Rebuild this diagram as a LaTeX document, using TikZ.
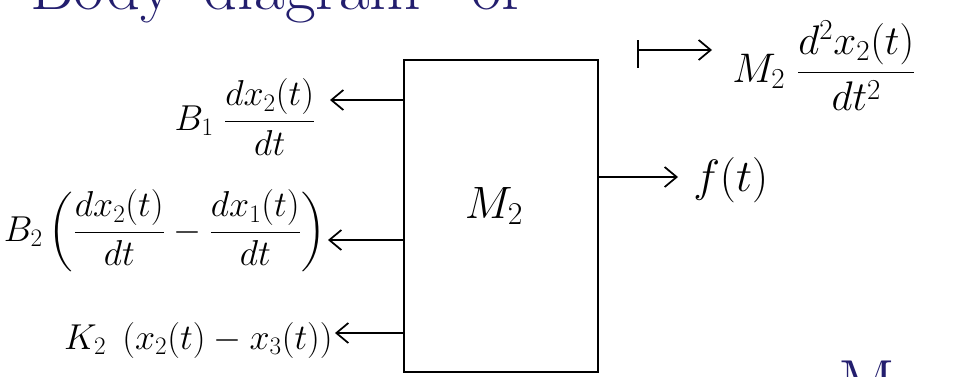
\RequirePackage{fix-cm}
\documentclass[tikz,border=0pt]{standalone}
\usepackage{amsmath}
\usepackage{tikz}
\usetikzlibrary{arrows.meta, positioning}

\definecolor{inkblue}{RGB}{35,30,110}

\tikzset{
  massbox/.style={draw, line width=1.4pt, minimum width=145.5pt, minimum height=234pt, inner sep=0pt},
  masslbl/.style={font=\fontsize{34}{38}\selectfont, inner sep=0pt},
  forcelbl/.style={font=\fontsize{27}{31}\selectfont, inner sep=0pt},
  force/.style={line width=1.3pt, -{Straight Barb[length=9pt, width=15pt, line width=1.3pt]}},
  heading/.style={text=inkblue, font=\fontsize{50}{54}\selectfont, inner sep=0pt},
}

\begin{document}
\begin{tikzpicture}[x=0.75pt, y=-0.75pt]
\useasboundingbox (0,0) rectangle (962,376);

% Heading and footer (only cut-off edges fall inside the frame)
\begin{scope}
\clip (0,0) rectangle (962,376);
\node[heading, anchor=base west] (title) at (30,9) {Body\, diagram\;\, of};
\node[heading, anchor=base west] (footer) at (838,406) {M$_2$};
\end{scope}

% Mass block
\node[massbox] (mass) at (501,216) {};
\node[masslbl] (massname) at (494,206) {$M_2$};

% Forces to the left (tips of the arrows)
\coordinate (b1tip) at (330,100);
\coordinate (b2tip) at (328,240);
\coordinate (k2tip) at (335,333);
\draw[force] (mass.west |- b1tip) -- (b1tip);
\draw[force] (mass.west |- b2tip) -- (b2tip);
\draw[force] (mass.west |- k2tip) -- (k2tip);

\node[forcelbl, anchor=east] (b1lbl) at (316,117) {$B_1\;\dfrac{dx_2(t)}{dt}$};
\node[forcelbl, anchor=east] (b2lbl) at (326,231) {$B_2\left(\dfrac{dx_2(t)}{dt}-\dfrac{dx_1(t)}{dt}\right)$};
\node[forcelbl, anchor=east] (k2lbl) at (333,340) {$K_2\;\,(x_2(t)-x_3(t))$};

% Applied force to the right
\coordinate (fttip) at (678,177);
\draw[force] (mass.east |- fttip) -- (fttip);
\node[forcelbl, font=\fontsize{34}{38}\selectfont, anchor=west] (ftlbl) at (693,180) {$f(t)$};

% Inertia force
\coordinate (acctail) at (638,50);
\coordinate (acctip) at (712,50);
\draw[line width=1.3pt] (acctail) ++(0,-10) -- ++(0,28);
\draw[force] (acctail) -- (acctip);
\node[forcelbl, font=\fontsize{31}{35}\selectfont, anchor=west] (acclbl) at (732,66) {$M_2\;\dfrac{d^2x_2(t)}{dt^2}$};

\end{tikzpicture}
\end{document}
